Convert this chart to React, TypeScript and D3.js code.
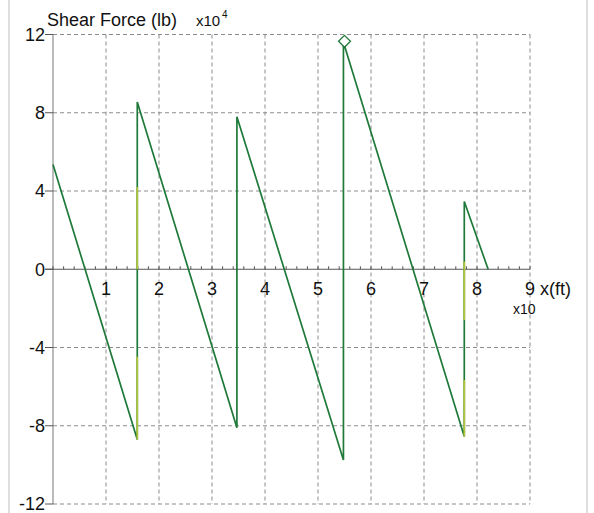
import React from "react";
import * as d3 from "d3";

const W = 594;
const H = 513;

// Shear diagram vertices (x in units of 10 ft, V in units of 1e4 lb)
const shearX = [0, 1.59, 1.59, 3.47, 3.47, 5.48, 5.48, 7.76, 7.76, 8.21];
const shearV = [5.35, -8.7, 8.55, -8.1, 7.8, -9.75, 11.6, -8.55, 3.46, 0];

// Lighter (yellow-green) portions on the vertical jumps: x, from, to
const hiX = [1.59, 1.59, 7.76, 7.76];
const hiFrom = [4.2, -4.47, 0.39, -5.66];
const hiTo = [0, -8.7, -2.6, -8.55];

// Peak marker
const markerX = [5.5];
const markerV = [11.6];

const xTicks = [1, 2, 3, 4, 5, 6, 7, 8, 9];
const yTicks = [12, 8, 4, 0, -4, -8, -12];
const yGrid = [12, 8, 4, -4, -8, -12];
const xMinor = d3.range(0, 9.0001, 0.2);

export default function App() {
  const x = d3.scaleLinear().domain([0, 9]).range([53, 530]);
  const y = d3.scaleLinear().domain([-12, 12]).range([504, 34.5]);

  const pts: [number, number][] = shearX.map((v, i) => [v, shearV[i]]);
  const line = d3
    .line<[number, number]>()
    .x((d) => x(d[0]))
    .y((d) => y(d[1]));

  const font = "Arial, 'Liberation Sans', sans-serif";
  const green = "#1f7a3a";
  const yellow = "#b3c437";
  const grid = "#8c8c8c";

  const diamond = d3.symbol().type(d3.symbolDiamond2).size(90)();

  return (
    <svg
      width={W}
      height={H}
      style={{ position: "absolute", left: 0, top: 0, background: "#fff" }}
      fontFamily={font}
    >
      <rect x={0} y={0} width={W} height={H} fill="#fff" />
      {/* page edges */}
      <line x1={9} x2={9} y1={0} y2={H} stroke="#c9c9c9" strokeWidth={1.2} />
      <line x1={587} x2={587} y1={0} y2={H} stroke="#c9c9c9" strokeWidth={1.2} />

      {/* grid */}
      {yGrid.map((t) => (
        <line
          key={"gy" + t}
          x1={x(0)}
          x2={x(9)}
          y1={y(t)}
          y2={y(t)}
          stroke={grid}
          strokeWidth={1}
          strokeDasharray="4,3"
        />
      ))}
      {xTicks.map((t) => (
        <line
          key={"gx" + t}
          x1={x(t)}
          x2={x(t)}
          y1={y(12)}
          y2={y(-12)}
          stroke={grid}
          strokeWidth={1}
          strokeDasharray="4,3"
        />
      ))}

      {/* y axis */}
      <line x1={x(0)} x2={x(0)} y1={y(12)} y2={y(-12)} stroke="#777" strokeWidth={1} />
      {yTicks.map((t) => (
        <g key={"yt" + t}>
          <line x1={x(0) - 8} x2={x(0)} y1={y(t)} y2={y(t)} stroke="#555" strokeWidth={1} />
          <text
            x={x(0) - 8}
            y={y(t)}
            dy="0.36em"
            textAnchor="end"
            fontSize={18}
            fill="#111"
          >
            {t}
          </text>
        </g>
      ))}

      {/* x axis */}
      <line x1={x(0) - 8} x2={x(9)} y1={y(0)} y2={y(0)} stroke="#555" strokeWidth={1} />
      {xMinor.map((t, i) => (
        <line
          key={"xm" + i}
          x1={x(t)}
          x2={x(t)}
          y1={y(0) - 3}
          y2={y(0)}
          stroke="#555"
          strokeWidth={1}
        />
      ))}
      {xTicks.map((t) => (
        <text
          key={"xt" + t}
          x={x(t)}
          y={y(0) + 26}
          textAnchor="middle"
          fontSize={18}
          fill="#111"
        >
          {t}
        </text>
      ))}
      <text x={x(9) + 10} y={y(0) + 26} fontSize={18} fill="#111">
        x(ft)
      </text>
      <text x={x(9) - 17} y={y(0) + 45} fontSize={14} fill="#111">
        x10
      </text>

      {/* title */}
      <text x={47} y={26} fontSize={18} fill="#111">
        Shear Force (lb)
      </text>
      <text x={196} y={26} fontSize={15} fill="#111">
        x10
      </text>
      <text x={222} y={18} fontSize={10} fill="#111">
        4
      </text>

      {/* shear line */}
      <path d={line(pts) || ""} fill="none" stroke={green} strokeWidth={1.7} />
      {hiX.map((v, i) => (
        <line
          key={"hi" + i}
          x1={x(v)}
          x2={x(v)}
          y1={y(hiFrom[i])}
          y2={y(hiTo[i])}
          stroke={yellow}
          strokeWidth={1.7}
        />
      ))}

      {markerX.map((v, i) => (
        <path
          key={"mk" + i}
          d={diamond || ""}
          transform={`translate(${x(v)},${y(markerV[i]) - 1})`}
          fill="#fff"
          stroke={green}
          strokeWidth={1.3}
        />
      ))}
    </svg>
  );
}
